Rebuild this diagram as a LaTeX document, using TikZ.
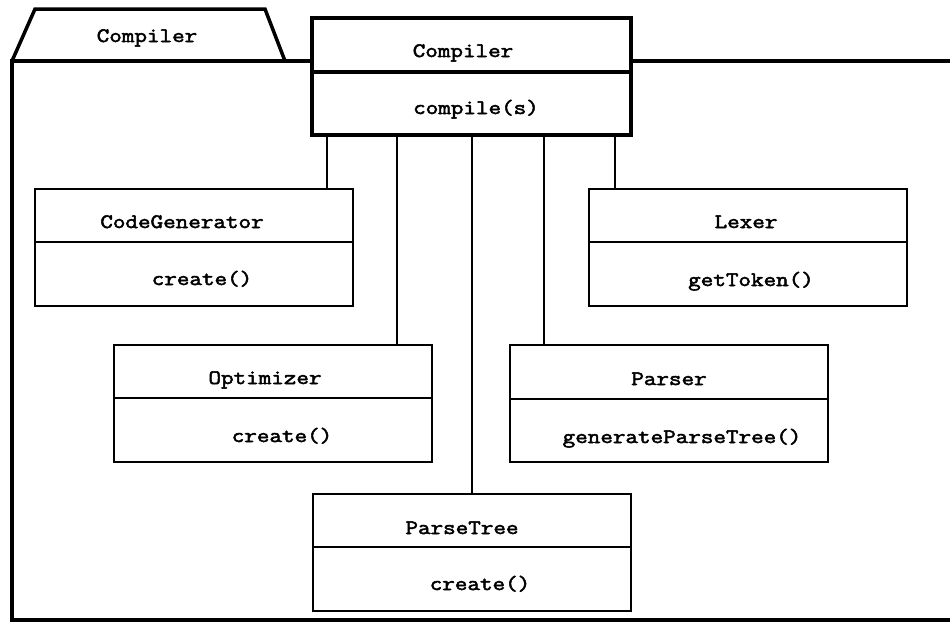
\documentclass[tikz,border=0pt]{standalone}
\usepackage{fontspec}
\newfontfamily\umlfont{Latin Modern Mono}[FakeStretch=1.19, FakeBold=2.5]
\begin{document}
\begin{tikzpicture}[x=1pt,y=-1pt,
  lbl/.style={font=\umlfont\fontsize{20.5}{24}\selectfont, anchor=base, inner sep=0pt},
  pkgline/.style={line width=3.5pt, line join=miter},
  clsbox/.style={draw, line width=2pt, fill=white, rectangle, inner sep=0pt, outer sep=0pt,
                 minimum width=318pt, minimum height=117pt},
  mainbox/.style={clsbox, line width=4pt, minimum width=319pt},
  divline/.style={line width=2pt},
  maindiv/.style={line width=4pt},
  link/.style={line width=2pt}]
\useasboundingbox (0,0) rectangle (950,622);

% package frame and tab
\draw[pkgline] (950,61) -- (12,61) -- (12,620) -- (950,620);
\draw[pkgline] (12,61) -- (35,9) -- (265,9) -- (285,61);
\node[lbl] (pkgname) at (147,42) {Compiler};

% main class
\node[mainbox] (comp) at (471.5,76.5) {};
\draw[maindiv] (comp.west |- 0,72) -- (comp.east |- 0,72);
\node[lbl] (compname) at (463,57) {Compiler};
\node[lbl] (compop) at (476,114) {compile(s)};

% member classes
\node[clsbox] (cg) at (193.5,247.5) {};
\draw[divline] (cg.west |- 0,242) -- (cg.east |- 0,242);
\node[lbl] (cgname) at (182,228) {CodeGenerator};
\node[lbl] (cgop) at (202,285) {create()};

\node[clsbox] (lex) at (748,247.5) {};
\draw[divline] (lex.west |- 0,242) -- (lex.east |- 0,242);
\node[lbl] (lexname) at (746,228) {Lexer};
\node[lbl] (lexop) at (751,286) {getToken()};

\node[clsbox] (opt) at (272.5,403) {};
\draw[divline] (opt.west |- 0,398) -- (opt.east |- 0,398);
\node[lbl] (optname) at (265,384) {Optimizer};
\node[lbl] (optop) at (282,442) {create()};

\node[clsbox] (par) at (669,403.5) {};
\draw[divline] (par.west |- 0,399) -- (par.east |- 0,399);
\node[lbl] (parname) at (669,385) {Parser};
\node[lbl] (parop) at (682,443) {generateParseTree()};

\node[clsbox] (pt) at (471.5,552) {};
\draw[divline] (pt.west |- 0,547) -- (pt.east |- 0,547);
\node[lbl] (ptname) at (462,534) {ParseTree};
\node[lbl] (ptop) at (480,590) {create()};

% composition links
\draw[link] (327,0 |- comp.south) -- (327,0 |- cg.north);
\draw[link] (397,0 |- comp.south) -- (397,0 |- opt.north);
\draw[link] (472,0 |- comp.south) -- (472,0 |- pt.north);
\draw[link] (544,0 |- comp.south) -- (544,0 |- par.north);
\draw[link] (615,0 |- comp.south) -- (615,0 |- lex.north);
\end{tikzpicture}
\end{document}
